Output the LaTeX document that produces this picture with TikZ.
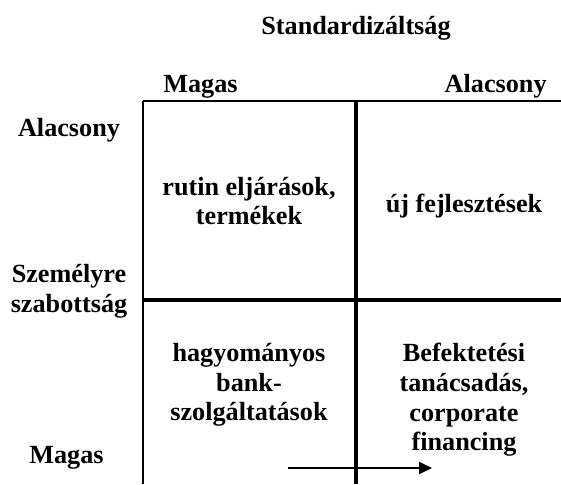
\documentclass[tikz,border=0pt]{standalone}
\usepackage{fontspec}
\setmainfont{Liberation Serif}
\usepackage{tikz}
\usetikzlibrary{arrows.meta, positioning}
\tikzstyle{lbl} = [inner sep=0pt, font=\bfseries\fontsize{13.1}{14.8}\selectfont]
\tikzstyle{cell} = [lbl, align=center]
\tikzstyle{thinline} = [line width=1pt]
\tikzstyle{thickline} = [line width=1.6pt]
\tikzstyle{arrow} = [line width=1pt,->,>={Triangle[length=6.5pt,width=6pt]}]

\begin{document}
\begin{tikzpicture}[x=0.5pt, y=-0.5pt]
\useasboundingbox (0,0) rectangle (561,484);

% frame
\draw[thinline] (143,101) -- (143,484);
\draw[thinline] (142.5,101) -- (561,101);
\draw[thickline] (356,101) -- (356,484);
\draw[thickline] (142.5,300) -- (561,300);

% axis labels
\node(std)[lbl, anchor=base] at (356,34) {Standardizáltság};
\node(hiS)[lbl, anchor=base west] at (163,92) {Magas};
\node(loS)[lbl, anchor=base east] at (547,92) {Alacsony};
\node(loP)[lbl, anchor=base] at (69,136) {Alacsony};
\node(pers)[cell, anchor=center] at (69,291) {Személyre\\szabottság};
\node(hiP)[lbl, anchor=base] at (66.5,463) {Magas};

% cells
\node(rutin)[cell, anchor=center] at (249,201) {rutin eljárások,\\termékek};
\node(uj)[lbl, anchor=base] at (464,212) {új fejlesztések};
\node(bank)[cell, anchor=north] at (249,343) {hagyományos\\bank-\\szolgáltatások};
\node(befek)[cell, anchor=north] at (464,343) {Befektetési\\tanácsadás,\\corporate\\financing};

\coordinate(a0) at (288,468);
\coordinate(a1) at (432,468);
\draw [arrow] (a0) -- (a1);

\end{tikzpicture}
\end{document}
